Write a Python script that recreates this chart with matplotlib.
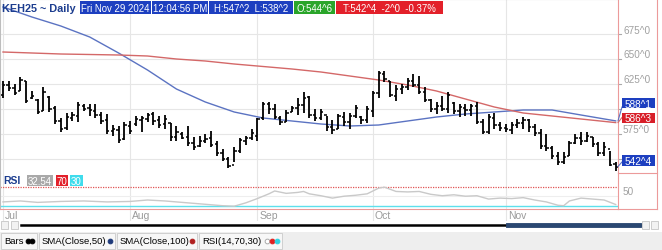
import matplotlib
matplotlib.use('Agg')
import matplotlib.pyplot as plt
import numpy as np
from matplotlib.patches import Rectangle
from matplotlib.lines import Line2D

plt.rcParams['font.family'] = ['Liberation Sans', 'DejaVu Sans']

# daily OHLC, Jul 1 - Nov 29 2024 (107 sessions)
highs = [628, 628, 625, 632, 628, 618, 610, 622, 613, 603, 591, 596, 597, 607, 605, 605, 605, 597, 595, 584,
         583, 587, 588, 593, 593, 596, 597, 593, 594, 586, 583, 577, 583, 572, 573, 575, 578, 568, 560, 552,
         562, 571, 573, 580, 591, 607, 607, 605, 593, 599, 603, 611, 617, 613, 600, 600, 593, 589, 595, 597,
         596, 604, 593, 603, 618, 638, 638, 628, 624, 625, 631, 635, 633, 622, 610, 607, 613, 617, 607, 605,
         605, 605, 607, 590, 595, 596, 587, 585, 587, 590, 592, 590, 585, 580, 575, 563, 557, 557, 568, 575,
         577, 577, 572, 567, 567, 558, 547.25]
lows = [611, 618, 614, 618, 606, 610, 595, 598, 597, 585, 577, 579, 588, 587, 598, 593, 591, 585, 575, 573,
        566, 569, 575, 583, 577, 587, 584, 581, 580, 568, 568, 570, 563, 559, 562, 566, 562, 553, 548, 541,
        547, 556, 564, 569, 568, 589, 595, 590, 584, 587, 597, 594, 596, 591, 588, 589, 578, 575, 580, 583,
        580, 591, 585, 586, 592, 611, 627, 612, 608, 615, 619, 622, 615, 607, 597, 595, 598, 596, 595, 592,
        593, 593, 585, 575, 575, 580, 578, 577, 575, 581, 580, 577, 573, 560, 558, 550, 544, 545, 553, 565,
        564, 567, 562, 553, 553, 543, 538.25]
opens = [614, 624, 621, 618, 628, 611, 609, 598, 612, 601, 588, 581, 591, 593, 603, 601, 598, 594, 589, 578,
         579, 570, 583, 585, 589, 590, 595, 589, 585, 586, 572, 575, 572, 566, 563, 568, 571, 565, 556, 550,
         544, 558, 568, 571, 573, 591, 605, 600, 591, 587, 597, 601, 604, 612, 594, 591, 594, 582, 580, 592,
         587, 593, 592, 589, 598, 616, 635, 628, 613, 620, 622, 628, 624, 617, 609, 600, 603, 600, 606, 598,
         601, 599, 603, 587, 577, 591, 584, 581, 579, 584, 586, 589, 582, 576, 563, 561, 553, 547, 553, 566,
         571, 568, 572, 565, 556, 560, 544.75]
closes = [624, 621, 616, 629, 608, 613, 597, 617, 600, 588, 580, 592, 594, 604, 600, 599, 594, 588, 578, 580,
          569, 584, 578, 590, 591, 594, 588, 584, 590, 572, 577, 571, 566, 562, 568, 570, 564, 556, 550, 543,
          558, 569, 571, 576, 590, 605, 600, 592, 587, 596, 601, 604, 611, 594, 591, 597, 582, 579, 593, 587,
          593, 601, 589, 600, 616, 636, 630, 614, 620, 622, 628, 624, 617, 609, 600, 603, 600, 614, 598, 602,
          599, 603, 587, 577, 592, 584, 581, 580, 584, 586, 589, 582, 576, 563, 561, 553, 547, 552, 566, 571,
          568, 573, 565, 556, 562, 544.5, 542.5]

# moving averages and RSI at selected sessions
sma_idx = [0, 5, 10, 15, 20, 25, 30, 35, 40, 45, 50, 55, 60, 65, 70, 75, 80, 85, 90, 95, 100, 106]
sma50 = [702, 692, 683, 672, 656, 639, 620, 607, 597, 591, 588, 585, 583, 584, 588, 592, 595, 597, 599, 599,
         594, 588.1]
sma100 = [657, 656, 655, 654.5, 654, 653, 650, 648, 645, 642.5, 640, 637, 633, 629, 624, 618, 610, 602, 596,
          593, 590, 586.4]
rsi_idx = [0, 3, 6, 10, 14, 18, 22, 25, 28, 32, 35, 38, 40, 42, 44, 46, 47, 49, 51, 52, 53, 55, 57, 59, 61,
           63, 65, 66, 68, 70, 72, 74, 76, 78, 80, 82, 84, 86, 88, 90, 92, 94, 96, 97, 98, 100, 102, 104, 106]
rsi = [38, 40, 37, 39, 40, 38, 39, 42, 40, 36, 33, 30, 29, 36, 45, 55, 61, 56, 58, 60, 55, 51, 46, 50, 52,
       55, 67, 69, 60, 59, 60, 54, 51, 53, 50, 51, 44, 46, 45, 47, 42, 38, 31, 30, 40, 46, 44, 42, 32.54]

month_idx = [0, 22, 44, 64, 87]
month_names = ['Jul', 'Aug', 'Sep', 'Oct', 'Nov']
price_ticks = [675, 650, 625, 600, 575, 550]

W, H = 662, 251
fig = plt.figure(figsize=(W / 100, H / 100), dpi=100)


def fx(x):
    return x / W


def fy(y):
    return 1 - y / H


def rect(x0, y0, x1, y1, color, z=5, ec='none'):
    fig.patches.append(Rectangle((fx(x0), fy(y1)), (x1 - x0) / W, (y1 - y0) / H, transform=fig.transFigure,
                                 facecolor=color, edgecolor=ec, lw=0.7, zorder=z))


def box(x0, y0, x1, y1, color, text, size=7, tc='white'):
    rect(x0, y0, x1, y1, color)
    fig.text(fx((x0 + x1) / 2), fy((y0 + y1) / 2 + 0.5), text, ha='center', va='center', color=tc,
             fontsize=size, zorder=6)


def line(xs, ys, color, lw=0.8, ls='-'):
    fig.add_artist(Line2D([fx(v) for v in xs], [fy(v) for v in ys], color=color, lw=lw, ls=ls))


xl = (-3 / 5.78, 615 / 5.78)
grid_c = '#e6e6e6'
pink = '#ec9a9a'

# vertical month grid through both panels and the date row
bg = fig.add_axes([0, fy(222), fx(618), 222 / H])
bg.set_xlim(xl)
bg.axis('off')
for m in month_idx:
    bg.axvline(m, color=grid_c, lw=0.8)

# price panel
ax = fig.add_axes([0, fy(174), fx(618), 174 / H])
ax.set_facecolor('none')
ax.set_xlim(xl)
ax.set_ylim(536, 710)
for p in price_ticks:
    ax.axhline(p, color=grid_c, lw=0.8, zorder=0)
idx = np.arange(len(closes))
ax.vlines(idx, lows, highs, color='black', lw=1.3, zorder=3)
ax.hlines(opens, idx - 0.4, idx, color='black', lw=1.1, zorder=3)
ax.hlines(closes, idx, idx + 0.4, color='black', lw=1.1, zorder=3)
ax.plot(sma_idx, sma50, color='#5b73c2', lw=1.0, zorder=2)
ax.plot(sma_idx, sma100, color='#d46868', lw=1.0, zorder=2)
ax.set_xticks([])
ax.set_yticks([])
ax.spines['bottom'].set_visible(False)
ax.spines['left'].set_color('#bdbdbd')
ax.spines['top'].set_color('#bdbdbd')
ax.spines['right'].set_color(pink)

# RSI panel
rs = fig.add_axes([0, fy(210), fx(618), 36 / H])
rs.set_facecolor('none')
rs.set_xlim(xl)
rs.set_ylim(23.1, 98.8)
rs.axhline(50, color='#eeeeee', lw=0.8)
rs.axhline(70, color='#e05555', lw=0.9, ls=(0, (1, 1)))
rs.axhline(30, color='#5ee0ec', lw=1.0)
rs.plot(rsi_idx, rsi, color='#c9c9c9', lw=1.0)
rs.set_xticks([])
rs.set_yticks([])
rs.spines['top'].set_visible(False)
rs.spines['left'].set_color('#bdbdbd')
rs.spines['right'].set_color(pink)
rs.spines['bottom'].set_color(pink)

# right price scale (600 and 550 sit under the value boxes)
line([657, 657], [0, 210], pink)
line([618, 657], [174, 174], pink)
line([618, 657], [210, 210], pink)
for p in price_ticks:
    y = 710 - p
    line([619, 621], [y, y], '#aaaaaa')
    if p not in (600, 550):
        fig.text(fx(623), fy(y + 0.5), f'{p}^0', ha='left', va='bottom', color='#a0a0a0', fontsize=7.2)
fig.text(fx(623), fy(197.5), '50', ha='left', va='bottom', color='#a0a0a0', fontsize=7.2)

line([618, 622], [710 - sma50[-1], 108], '#5b73c2')
line([618, 622], [710 - sma100[-1], 118.5], '#d46868')
line([618, 622], [710 - closes[-1], 163], '#5b73c2')
box(622, 99, 655, 109, '#1d3fc0', '588^1', size=7.2)
box(622, 114, 655, 123.5, '#d81e28', '586^3', size=7.2)
box(622, 156, 655, 167, '#1d3fc0', '542^4', size=7.2)

# header
fig.text(fx(2), fy(8.5), 'KEH25 ~ Daily', ha='left', va='center', color='#1c3d8f', fontsize=7.8,
         fontweight='bold', zorder=6)
box(80, 1.5, 151, 14.5, '#1d3fc0', 'Fri Nov 29 2024', size=6.9)
box(152, 1.5, 208, 14.5, '#1d3fc0', '12:04:56 PM', size=6.9)
box(209, 1.5, 293, 14.5, '#1d3fc0', 'H:547^2  L:538^2', size=6.9)
box(294, 1.5, 335, 14.5, '#2aa52a', 'O:544^6', size=6.9)
box(336, 1.5, 443, 14.5, '#e3202a', 'T:542^4  -2^0  -0.37%', size=6.9)

# RSI header
fig.text(fx(3), fy(181.5), 'RSI', ha='left', va='center', color='#1c3d8f', fontsize=7.5, fontweight='bold')
box(27, 176, 53, 187, '#a9a9a9', '32.54')
box(56, 176, 68, 187, '#e3202a', '70')
box(70, 176, 83, 187, '#3fdcec', '30')

# date row
for m, name in zip(month_idx, month_names):
    fig.text(fx(3 + 5.78 * m + 2), fy(216), name, ha='left', va='center', color='#9a9a9a', fontsize=7.5)

# scroll bar
rect(1, 222, 8, 230, '#f2f2f2', ec='#cccccc')
rect(11, 222, 18, 230, '#f2f2f2', ec='#cccccc')
rect(642, 222, 649, 230, '#f2f2f2', ec='#cccccc')
rect(651, 222, 658, 230, '#f2f2f2', ec='#cccccc')
line([21, 640], [226, 226], 'black', lw=1.8)
line([508, 639], [226, 226], '#2b4872', lw=3.5)

# legend strip
rect(0, 233, 662, 251, '#eeeeee', z=1)
items = [(1, 37, 'Bars'), (39, 115, 'SMA(Close,50)'), (117, 197, 'SMA(Close,100)'), (199, 282, 'RSI(14,70,30)')]
for x0, x1, name in items:
    rect(x0, 234, x1, 250, '#f7f7f7', z=2, ec='#cfcfcf')
    fig.text(fx(x0 + 3), fy(242), name, ha='left', va='center', color='black', fontsize=6.8, zorder=6)
dots = [(28, 'black', 'black'), (32, 'black', 'black'), (110, '#1f3a7a', '#1f3a7a'),
        (192, '#b02020', '#b02020'), (267, 'white', '#aaaaaa'), (272, '#e02020', '#e02020'),
        (277, '#30d0e0', '#30d0e0')]
for x, fc, ec in dots:
    fig.add_artist(Line2D([fx(x)], [fy(242)], marker='o', ms=3.4, mfc=fc, mec=ec, mew=0.7, ls='', zorder=8))

fig.savefig('out.png', dpi=100)
